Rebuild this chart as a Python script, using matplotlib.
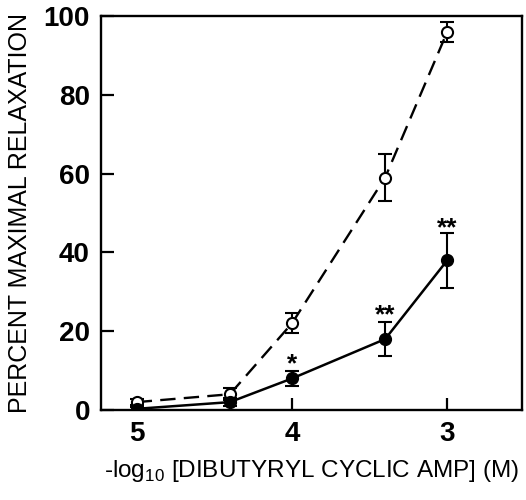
import matplotlib
matplotlib.use("Agg")
import matplotlib.pyplot as plt

# Data
log_conc = [5.0, 4.4, 4.0, 3.4, 3.0]
open_vals = [2, 4, 22, 59, 96]
open_err = [0.8, 1.5, 2.5, 6, 2.5]
filled_vals = [0.3, 2, 8, 18, 38]
filled_err = [0.5, 1.0, 2.0, 4.3, 7]
star_x = [4.0, 3.4, 3.0]
star_y = [11.5, 24, 46]
star_text = ["*", "**", "**"]
yticks = [0, 20, 40, 60, 80, 100]
xticks = [5, 4, 3]

plt.rcParams['font.family'] = ['Liberation Sans', 'DejaVu Sans']

fig = plt.figure(figsize=(5.26, 5.00), dpi=100)
ax = fig.add_axes([0.192, 0.18, 0.8, 0.788])

ax.errorbar(log_conc, open_vals, yerr=open_err, fmt='o', linestyle=(0, (6.5, 3.5)),
            color='black', lw=1.7, ms=8, mfc='white', mec='black', mew=1.5,
            capsize=5, elinewidth=1.5, capthick=1.5, zorder=3)
ax.errorbar(log_conc, filled_vals, yerr=filled_err, fmt='o', linestyle='-',
            color='black', lw=1.8, ms=8.5, mfc='black', mec='black',
            capsize=5, elinewidth=1.5, capthick=1.5, zorder=4)

for x, y, t in zip(star_x, star_y, star_text):
    ax.text(x, y, t, ha='center', va='center', fontsize=19, fontweight='bold')

ax.set_xlim(5.23, 2.52)
ax.set_ylim(0, 100)
ax.set_xticks(xticks)
ax.set_xticklabels([str(v) for v in xticks])
ax.set_yticks(yticks)
ax.set_yticklabels([str(v) for v in yticks])
ax.tick_params(direction='in', length=9, width=1.6, labelsize=20, pad=8)
for lab in ax.get_xticklabels() + ax.get_yticklabels():
    lab.set_fontweight('bold')
for s in ax.spines.values():
    s.set_linewidth(1.7)

ax.set_ylabel('PERCENT MAXIMAL RELAXATION', fontsize=18, labelpad=8)
ax.set_xlabel(r'-log$_{\mathregular{10}}$ [DIBUTYRYL CYCLIC AMP] (M)', fontsize=17.5, labelpad=8)

fig.savefig('out.png', dpi=100)
